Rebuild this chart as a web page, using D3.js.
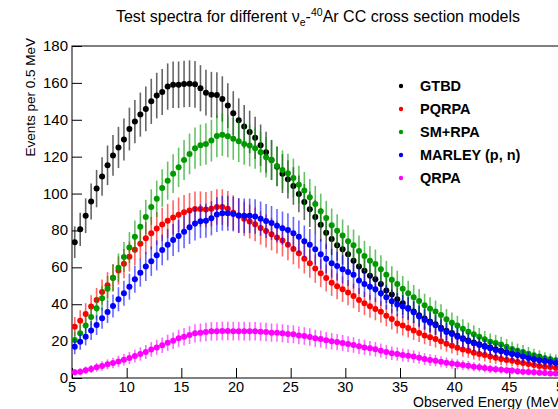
<!DOCTYPE html>
<html><head><meta charset="utf-8">
<script src="https://cdn.jsdelivr.net/npm/d3@7"></script>
<style>body{margin:0;background:#fff;} svg{display:block;font-family:"Liberation Sans",Arial,Helvetica,sans-serif;}</style>
</head><body>
<svg id="c" width="558" height="409"></svg>
<script>
// ---- data ----
const binStart = 5, binWidth = 0.5, nBins = 90;
const seriesNames = ["GTBD", "PQRPA", "SM+RPA", "MARLEY (p, n)", "QRPA"];
const seriesColors = ["#000000", "#ff0000", "#009a00", "#0000ff", "#ff00ff"];
const gtbd = [73.6,80.6,88,95.7,102.7,109.2,115.3,120.7,125,129.3,135,139,142.8,145.9,150,153.1,155.1,158,159,159,159.4,159.6,159.2,157.1,154.7,153.6,153.4,151.3,147.7,143.5,139.8,136.3,133.4,130.2,126.2,122.4,118.2,114.6,110.8,107.7,104.1,99.8,95.4,91.5,87.3,83.1,78.8,75.3,72,69.8,67.1,63.6,60.5,58.2,55.5,53.5,51,47.5,45.3,42.7,40.5,38,36,34,32.3,30.6,29.1,27.3,25.6,24.4,22.9,21.6,20.3,19.2,18.3,17.4,16.5,15.6,14.8,14.1,13.3,12.8,11.9,11.1,10.4,9.9,9.4,8.9,8.3,8.0];
const pqrpa = [27.8,31.1,34.7,38.7,42.3,46.6,50.3,54.4,58.3,62,65.8,69.5,72.8,75.8,78.5,81,83.2,85.2,87,88.5,89.8,90.8,91.6,91.6,91.3,91.8,92.7,92.7,91.8,89.6,88,86.3,84.8,83.3,81.3,79.7,78,76.2,74.5,72.3,70,67.6,64.7,62.2,59.3,56.8,54.2,51.7,49.7,48.1,46.3,44.5,42.3,40.5,38.9,37.4,35.9,33.8,32,29.5,28.4,27.1,25.7,24.4,23.1,22.1,21.1,19.9,18.6,17.5,16.4,15.5,14.8,13.7,13,12.5,11.6,11,10.3,9.8,9.4,8.7,8.1,7.6,7,6.5,6.1,6,5.4,5.2];
const smrpa = [20.6,24.2,28.4,33.1,37.8,43.2,48.4,54.2,59.8,65.6,70.7,76.6,82,87.3,92.7,97.2,103,107,110.8,114.2,118.2,121.5,124.6,126.2,126.9,128.7,131.2,131.9,131.1,129.7,128.4,126.9,126,124.6,122.4,119.7,118.2,115,112.8,111,108.5,104.8,101.6,98,94.4,90.4,86.8,82.8,79.8,77.2,74.2,72,68.9,66.2,63.6,61.8,58.9,56,53.3,51,48.4,45.9,43.8,41.8,39.4,37.6,36,34.2,31.8,30,28.4,26.7,25.1,23.7,22.4,21,19.7,19,18.1,17,15.7,14.8,14.1,13.2,12.3,11.6,10.7,10.1,9.6,9.1];
const marley = [17,19.7,22.4,25.7,28.7,32.4,35.8,39,42.7,45.9,49.5,53.5,57.1,60.4,63.3,66.5,69.4,72.3,74.8,77,79.3,81.7,83.7,85,85.3,86.6,88.6,89.3,89.3,88.9,88.1,87.9,87.9,87.5,86.4,85.1,84.1,82.6,81.2,80.3,78.5,76.6,74.1,72.3,69.8,67.1,64.7,62.2,60.7,58.9,57.5,56,52.8,51,49.5,48.1,45.9,43.8,41.6,39.8,38.7,37.6,35.6,33.3,31.5,30,28.6,26.6,24.9,23.9,22.4,21.1,19.9,18.8,17.9,17,16.1,15.2,14.5,13.7,13,12.5,11.6,10.8,10.1,9.6,9.2,8.7,8.1,7.8];
const qrpa = [3.1,3.4,4.2,4.9,5.8,6.5,7.4,8.1,9,9.9,10.8,11.9,13,14.1,15.5,16.6,17.7,19.1,20.2,21.5,22.4,23.3,24.2,24.6,24.9,25.3,25.3,25.5,25.5,25.4,25.4,25.4,25.3,25.3,25.1,24.9,24.6,24.6,24.2,23.9,23.7,23.1,22.8,22.2,21.5,21.1,20.4,19.9,19.5,19,18.4,17.9,17.2,16.6,16.1,15.6,14.8,14.1,13.4,13,12.5,12.1,11.6,11,10.3,9.8,9.4,8.8,8.3,7.8,7.4,7,6.7,6.1,5.8,5.4,5,4.7,4.5,4.2,4,3.6,3.4,3.3,3.1,2.9,2.7,2.5,2.5,2.3];
const xTicks = [5,10,15,20,25,30,35,40,45,50];
const yTicks = [0,20,40,60,80,100,120,140,160,180];
const allSeries = [gtbd, pqrpa, smrpa, marley, qrpa];

// ---- layout ----
const svg = d3.select("#c");
const L = 72, R = 564, T = 46, B = 378;
const x = d3.scaleLinear().domain([5, 50]).range([L, R]);
const y = d3.scaleLinear().domain([0, 180]).range([B, T]);

svg.append("rect").attr("width",558).attr("height",409).attr("fill","#fff");

// frame
svg.append("rect").attr("x",L).attr("y",T).attr("width",R-L).attr("height",B-T)
  .attr("fill","none").attr("stroke","#000").attr("stroke-width",1);

// axes (ticks inward)
const xAxis = d3.axisTop(x).tickValues(xTicks).tickSize(10).tickFormat("");
const xMinor = d3.axisTop(x).tickValues(d3.range(5, 51, 1)).tickSize(5).tickFormat("");
const gx = svg.append("g").attr("transform",`translate(0,${B})`);
gx.call(xMinor); gx.call(xAxis);
gx.selectAll(".domain").remove();
gx.selectAll("line").attr("stroke","#000");
const yAxis = d3.axisRight(y).tickValues(yTicks).tickSize(10).tickFormat("");
const yMinor = d3.axisRight(y).tickValues(d3.range(0, 181, 4)).tickSize(5).tickFormat("");
const gy = svg.append("g").attr("transform",`translate(${L},0)`);
gy.call(yMinor); gy.call(yAxis);
gy.selectAll(".domain").remove();
gy.selectAll("line").attr("stroke","#000");

// tick labels
svg.append("g").selectAll("text").data(xTicks).join("text")
  .attr("x", d => x(d)).attr("y", B + 14).attr("text-anchor","middle")
  .attr("font-size", 14.5).text(d => d);
svg.append("g").selectAll("text").data(yTicks).join("text")
  .attr("x", L - 4).attr("y", d => y(d) + 5).attr("text-anchor","end")
  .attr("font-size", 15).text(d => d);

// axis titles
svg.append("text").attr("x", R).attr("y", 407).attr("text-anchor","end")
  .attr("font-size", 14).text("Observed Energy (MeV)");
svg.append("text").attr("transform",`translate(35,${T-8}) rotate(-90)`).attr("text-anchor","end")
  .attr("font-size", 13.5).text("Events per 0.5 MeV");

// title
const title = svg.append("text").attr("x", 318).attr("y", 22).attr("text-anchor","middle").attr("font-size", 16);
title.append("tspan").text("Test spectra for different \u03bd");
title.append("tspan").attr("font-size", 10.5).attr("dy", 4).text("e");
title.append("tspan").attr("dy", -4).text("-");
title.append("tspan").attr("font-size", 10.5).attr("dy", -6).text("40");
title.append("tspan").attr("dy", 6).text("Ar CC cross section models");

// data
const clip = svg.append("clipPath").attr("id","pc").append("rect")
  .attr("x",L).attr("y",T).attr("width",R-L).attr("height",B-T);
const plot = svg.append("g").attr("clip-path","url(#pc)");
allSeries.forEach((vals, s) => {
  const pts = vals.map((v, i) => ({e: binStart + binWidth*(i+0.5), v, err: Math.sqrt(v)}));
  const g = plot.append("g");
  g.selectAll("line").data(pts).join("line")
    .attr("x1", d => x(d.e)).attr("x2", d => x(d.e))
    .attr("y1", d => y(d.v - d.err)).attr("y2", d => y(Math.min(180, d.v + d.err)))
    .attr("stroke", seriesColors[s]).attr("stroke-width", 1.6).attr("stroke-opacity", 0.6);
  g.selectAll("circle").data(pts).join("circle")
    .attr("cx", d => x(d.e)).attr("cy", d => y(d.v)).attr("r", 3)
    .attr("fill", seriesColors[s]);
});

// legend
const leg = svg.append("g");
seriesNames.forEach((n, i) => {
  const yy = 86 + i * 23;
  leg.append("circle").attr("cx", 401).attr("cy", yy).attr("r", 2.2).attr("fill", seriesColors[i]);
  leg.append("text").attr("x", 420).attr("y", yy + 5).attr("font-size", 14.5).attr("font-weight","bold").text(n);
});
</script>
</body></html>
